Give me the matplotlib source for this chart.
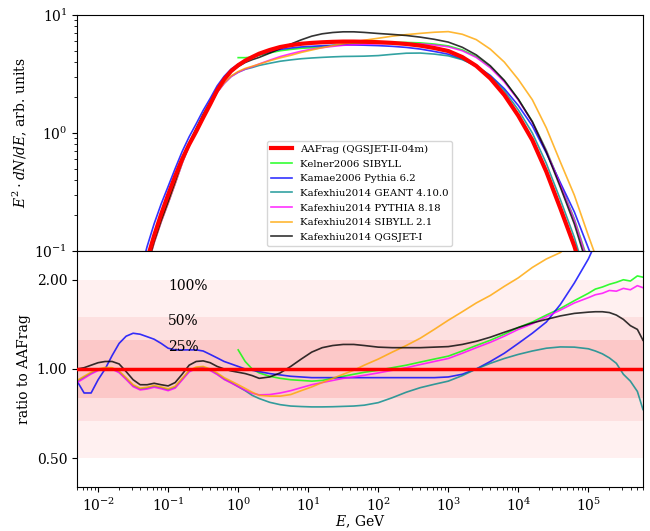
import numpy as np
import matplotlib
matplotlib.use('Agg')
import matplotlib.pyplot as plt
from matplotlib.ticker import FixedLocator, NullLocator, FormatStrFormatter

plt.rcParams['font.family'] = 'serif'
plt.rcParams['mathtext.fontset'] = 'dejavuserif'
plt.rcParams['font.size'] = 10

# log10(E / GeV) grid the curves were read on
log_e = [-2.3, -2.2, -2.1, -2.0, -1.9, -1.8, -1.7, -1.6, -1.5, -1.4,
         -1.3, -1.2, -1.1, -1.0, -0.9, -0.8, -0.7, -0.6, -0.5, -0.4, -0.3, -0.2, -0.1,
         0.0, 0.1, 0.2, 0.3, 0.45, 0.6, 0.75, 0.9, 1.05, 1.2, 1.35, 1.5, 1.65, 1.8,
         2.0, 2.2, 2.4, 2.6, 2.8, 3.0, 3.2, 3.4, 3.6, 3.8, 4.0, 4.2, 4.4, 4.6, 4.8,
         5.0, 5.1, 5.2, 5.3, 5.4, 5.5, 5.6, 5.7, 5.78]

# AAFrag spectrum E^2 dN/dE (arb. units)
aafrag = [0.0005, 0.0008, 0.0013, 0.002, 0.0033, 0.0055, 0.009, 0.016, 0.028, 0.05,
          0.085, 0.135, 0.205, 0.30, 0.43, 0.60, 0.80, 1.03, 1.35, 1.75, 2.3, 2.85, 3.35,
          3.75, 4.1, 4.4, 4.7, 5.05, 5.35, 5.55, 5.7, 5.8, 5.87, 5.92, 5.95, 5.95, 5.93,
          5.88, 5.8, 5.68, 5.5, 5.25, 4.95, 4.4, 3.7, 2.9, 2.1, 1.4, 0.87, 0.47, 0.23, 0.11,
          0.045, 0.028, 0.017, 0.01, 0.006, 0.0035, 0.002, 0.0011, 0.0007]

# ratios to AAFrag
nan = float('nan')
ratio_kelner = [nan] * 23 + [
    1.16, 1.06, 1.0, 0.97, 0.945, 0.93, 0.92, 0.915, 0.91, 0.915, 0.93, 0.945, 0.96, 0.975,
    0.99, 1.01, 1.03, 1.055, 1.08, 1.105, 1.15, 1.2, 1.25, 1.31, 1.38, 1.44, 1.52, 1.6, 1.7,
    1.8, 1.86, 1.89, 1.93, 1.96, 2.0, 1.98, 2.06, 2.04]
ratio_kamae = [
    0.91, 0.83, 0.83, 0.92, 1.0, 1.11, 1.22, 1.29, 1.32, 1.31,
    1.285, 1.26, 1.22, 1.175, 1.16, 1.16, 1.16, 1.16, 1.15, 1.12, 1.09, 1.06, 1.04,
    1.02, 1.0, 0.99, 0.98, 0.965, 0.955, 0.945, 0.94, 0.935, 0.935, 0.935, 0.935, 0.935, 0.935,
    0.935, 0.935, 0.935, 0.935, 0.935, 0.94, 0.96, 1.0, 1.06, 1.13, 1.22, 1.32, 1.44, 1.65, 1.95,
    2.35, 2.65, 3.0, 3.5, 4.0, 4.6, 5.2, 6.0, 6.7]
ratio_geant = [
    0.908, 0.938, 0.968, 0.994, 1.006, 1.004, 0.978, 0.928, 0.878, 0.856,
    0.862, 0.874, 0.864, 0.851, 0.868, 0.924, 0.984, 1.009, 1.014, 0.994, 0.962, 0.925, 0.9,
    0.872, 0.845, 0.815, 0.795, 0.772, 0.758, 0.75, 0.747, 0.745, 0.745, 0.746, 0.748, 0.75, 0.755,
    0.77, 0.8, 0.835, 0.865, 0.888, 0.91, 0.95, 1.0, 1.045, 1.085, 1.12, 1.15, 1.175, 1.187, 1.185,
    1.17, 1.15, 1.125, 1.09, 1.045, 0.96, 0.91, 0.84, 0.73]
ratio_pythia = [
    0.90, 0.93, 0.962, 0.988, 1.0, 0.998, 0.972, 0.922, 0.872, 0.85,
    0.856, 0.868, 0.858, 0.845, 0.862, 0.918, 0.978, 1.003, 1.008, 0.988, 0.958, 0.922, 0.897,
    0.872, 0.848, 0.828, 0.818, 0.82, 0.83, 0.845, 0.865, 0.885, 0.9, 0.915, 0.93, 0.94, 0.952,
    0.97, 0.99, 1.01, 1.035, 1.06, 1.085, 1.13, 1.18, 1.23, 1.29, 1.36, 1.42, 1.5, 1.58, 1.67,
    1.74, 1.78, 1.8, 1.84, 1.83, 1.87, 1.85, 1.91, 1.88]
ratio_sibyll = [
    0.915, 0.945, 0.975, 1.0, 1.012, 1.01, 0.985, 0.935, 0.885, 0.862,
    0.868, 0.88, 0.87, 0.857, 0.875, 0.93, 0.99, 1.015, 1.02, 1.0, 0.97, 0.935, 0.91,
    0.885, 0.86, 0.835, 0.815, 0.81, 0.81, 0.82, 0.845, 0.87, 0.9, 0.93, 0.96, 0.99, 1.03,
    1.08, 1.14, 1.2, 1.27, 1.36, 1.46, 1.56, 1.67, 1.77, 1.9, 2.03, 2.2, 2.35, 2.47, 2.7,
    3.0, 3.3, 3.6, 4.0, 4.4, 4.8, 5.3, 5.8, 6.3]
ratio_qgsjet = [
    1.0, 1.01, 1.03, 1.05, 1.06, 1.06, 1.04, 0.98, 0.92, 0.885,
    0.885, 0.895, 0.885, 0.877, 0.9, 0.96, 1.03, 1.06, 1.065, 1.05, 1.02, 1.0, 0.985,
    0.975, 0.965, 0.95, 0.93, 0.94, 0.97, 1.02, 1.08, 1.14, 1.18, 1.2, 1.21, 1.21, 1.2,
    1.185, 1.18, 1.18, 1.18, 1.185, 1.19, 1.21, 1.24, 1.28, 1.33, 1.38, 1.43, 1.47, 1.51, 1.54,
    1.555, 1.56, 1.56, 1.55, 1.52, 1.47, 1.4, 1.36, 1.25]

labels = ['Kelner2006 SIBYLL', 'Kamae2006 Pythia 6.2', 'Kafexhiu2014 GEANT 4.10.0',
          'Kafexhiu2014 PYTHIA 8.18', 'Kafexhiu2014 SIBYLL 2.1', 'Kafexhiu2014 QGSJET-I']
ratios = [ratio_kelner, ratio_kamae, ratio_geant, ratio_pythia, ratio_sibyll, ratio_qgsjet]
colors = ['lime', 'blue', 'darkcyan', 'magenta', 'orange', 'black']

energy = 10.0 ** np.array(log_e)
ref = np.array(aafrag)

fig = plt.figure(figsize=(6.5, 5.31), dpi=100)
ax1 = fig.add_axes([0.1185, 0.5273, 0.8705, 0.4445])
ax2 = fig.add_axes([0.1185, 0.0829, 0.8705, 0.4444], sharex=ax1)

# top panel: spectra
ax1.plot(energy, ref, color='red', lw=3, label='AAFrag (QGSJET-II-04m)', zorder=10)
for lab, r, c in zip(labels, ratios, colors):
    ax1.plot(energy, ref * np.array(r), color=c, lw=1.2, alpha=0.8, label=lab)
ax1.set_xscale('log')
ax1.set_yscale('log')
ax1.set_ylim(0.1, 10)
ax1.set_xlim(5e-3, 6e5)
ax1.set_ylabel(r'$E^2\cdot dN/dE$, arb. units')
ax1.tick_params(labelbottom=False)
ax1.legend(loc='lower center', fontsize=7.3, labelspacing=0.55)

# bottom panel: ratios
ax2.axhspan(0.5, 2.0, color='#fff0f0', lw=0, zorder=0)
ax2.axhspan(1 / 1.5, 1.5, color='#fde0e0', lw=0, zorder=0)
ax2.axhspan(0.8, 1.25, color='#fcc8c8', lw=0, zorder=0)
ax2.text(0.1, 1.91, '100%', va='center')
ax2.text(0.1, 1.447, '50%', va='center')
ax2.text(0.1, 1.187, '25%', va='center')
for lab, r, c in zip(labels, ratios, colors):
    ax2.plot(energy, r, color=c, lw=1.2, alpha=0.8)
ax2.axhline(1.0, color='red', lw=2.5, zorder=10)
ax2.set_yscale('log')
ax2.set_ylim(0.4, 2.5)
ax2.yaxis.set_major_locator(FixedLocator([0.5, 1.0, 2.0]))
ax2.yaxis.set_major_formatter(FormatStrFormatter('%.2f'))
ax2.yaxis.set_minor_locator(NullLocator())
ax2.set_ylabel('ratio to AAFrag')
ax2.set_xlabel('$E$, GeV', labelpad=0)

fig.savefig('out.png', dpi=100)
